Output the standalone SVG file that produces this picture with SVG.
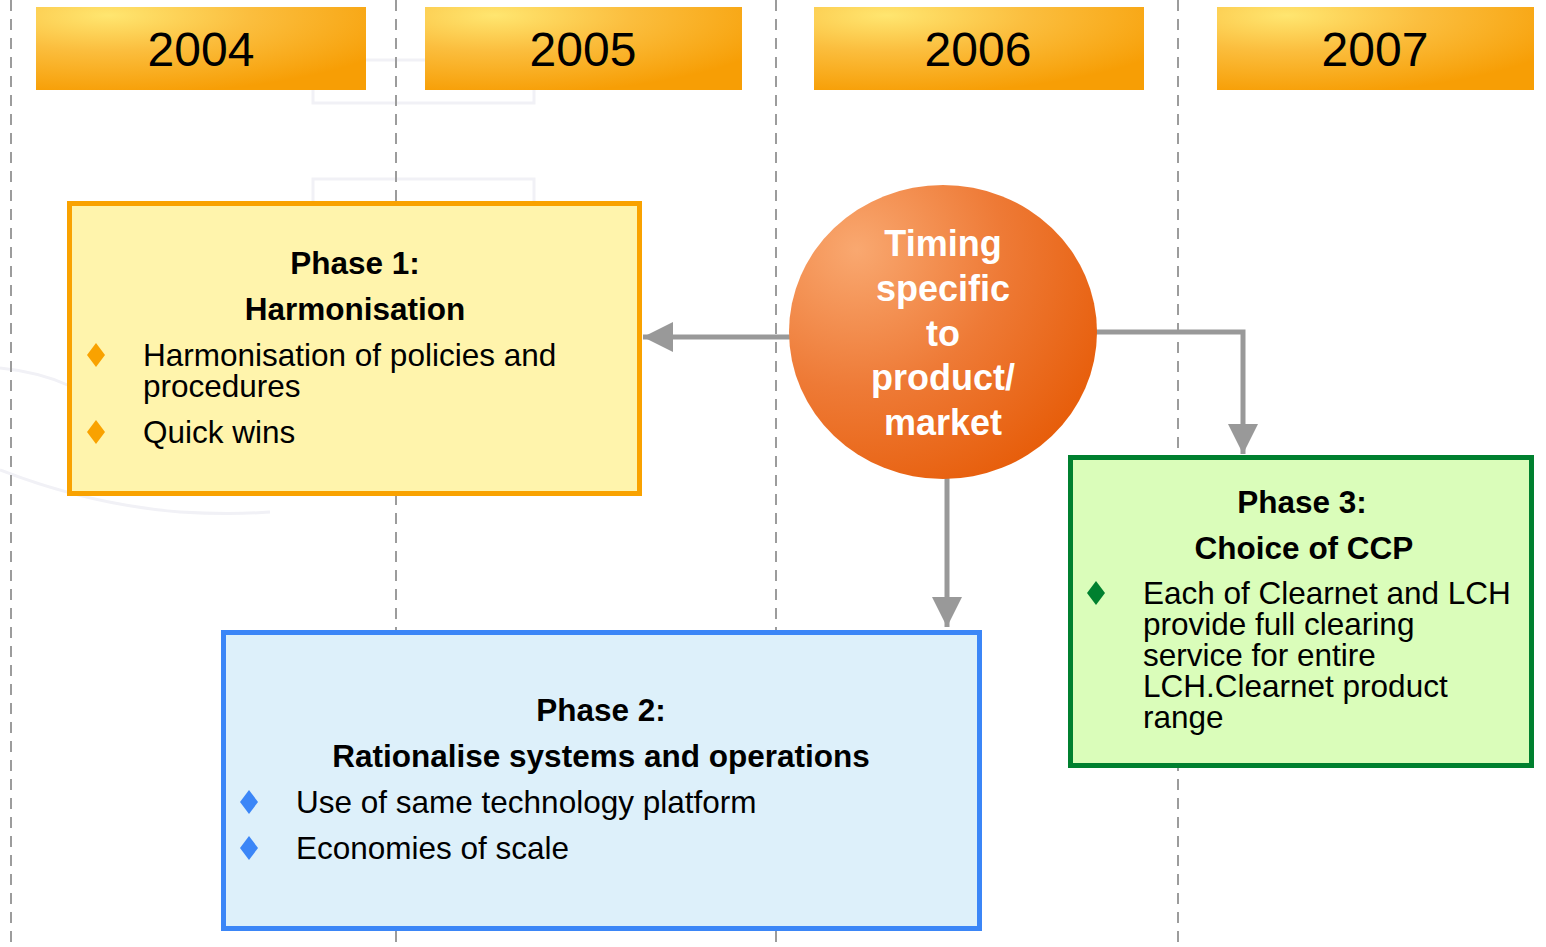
<svg xmlns="http://www.w3.org/2000/svg" width="1546" height="947" viewBox="0 0 1546 947">
  <style>
    text { font-family: "Liberation Sans", Arial, sans-serif; fill: #000; }
    .year { font-size: 48px; text-anchor: middle; }
    .head { font-size: 31.5px; font-weight: bold; text-anchor: middle; }
    .body { font-size: 31.5px; }
    .circ { font-size: 36px; font-weight: bold; text-anchor: middle; fill: #fff; }
    .grid { stroke: #9c9c9c; stroke-width: 2; stroke-dasharray: 11 8; fill: none; }
    .conn { stroke: #999; stroke-width: 5; fill: none; }
    .faint { stroke: #f1f1f6; stroke-width: 3; fill: none; }
  </style>
  <defs>
    <radialGradient id="yearGrad" cx="0.22" cy="0.1" r="0.95" fx="0.22" fy="0.1">
      <stop offset="0" stop-color="#FFE670"/>
      <stop offset="0.45" stop-color="#FBBE3E"/>
      <stop offset="1" stop-color="#F79E05"/>
    </radialGradient>
    <radialGradient id="circGrad" cx="0.22" cy="0.22" r="0.95" fx="0.22" fy="0.22">
      <stop offset="0" stop-color="#F9A870"/>
      <stop offset="0.5" stop-color="#EE7A36"/>
      <stop offset="1" stop-color="#E65A05"/>
    </radialGradient>
    <marker id="arrow" viewBox="0 0 30 30" refX="30" refY="15" markerWidth="30" markerHeight="30" markerUnits="userSpaceOnUse" orient="auto">
      <path d="M0,0 L30,15 L0,30 Z" fill="#999"/>
    </marker>
  </defs>

  <rect x="0" y="0" width="1546" height="947" fill="#fff"/>

  <g id="background">
    <rect class="faint" x="313" y="60" width="221" height="43"/>
    <rect class="faint" x="313" y="179" width="221" height="40"/>
    <path class="faint" d="M0,368 Q40,372 70,386"/>
    <path class="faint" d="M0,470 Q90,505 180,512 Q230,515 270,512"/>
  </g>

  <g id="gridlines">
    <line class="grid" x1="11" y1="0" x2="11" y2="947"/>
    <line class="grid" x1="396" y1="0" x2="396" y2="947"/>
    <line class="grid" x1="776" y1="0" x2="776" y2="947"/>
    <line class="grid" x1="1178" y1="0" x2="1178" y2="947"/>
  </g>

  <g id="year-2004">
    <rect x="36" y="7" width="330" height="83" fill="url(#yearGrad)"/>
    <text class="year" x="201" y="66">2004</text>
  </g>
  <g id="year-2005">
    <rect x="425" y="7" width="317" height="83" fill="url(#yearGrad)"/>
    <text class="year" x="583" y="66">2005</text>
  </g>
  <g id="year-2006">
    <rect x="814" y="7" width="330" height="83" fill="url(#yearGrad)"/>
    <text class="year" x="978" y="66">2006</text>
  </g>
  <g id="year-2007">
    <rect x="1217" y="7" width="317" height="83" fill="url(#yearGrad)"/>
    <text class="year" x="1375" y="66">2007</text>
  </g>

  <g id="phase1">
    <rect x="69.5" y="203.5" width="570" height="290" fill="#FFF4AC" stroke="#F9A200" stroke-width="5"/>
    <text class="head" x="355" y="274">Phase 1:</text>
    <text class="head" x="355" y="320">Harmonisation</text>
    <path d="M96,343 L105,355 L96,367 L87,355 Z" fill="#F9A200"/>
    <text class="body" x="143" y="366">Harmonisation of policies and</text>
    <text class="body" x="143" y="397">procedures</text>
    <path d="M96,420 L105,432 L96,444 L87,432 Z" fill="#F9A200"/>
    <text class="body" x="143" y="443">Quick wins</text>
  </g>

  <g id="phase2">
    <rect x="223.5" y="632.5" width="756" height="296" fill="#DDF0FA" stroke="#3B86F7" stroke-width="5"/>
    <text class="head" x="601" y="721">Phase 2:</text>
    <text class="head" x="601" y="767">Rationalise systems and operations</text>
    <path d="M249,790 L258,802 L249,814 L240,802 Z" fill="#3B86F7"/>
    <text class="body" x="296" y="813">Use of same technology platform</text>
    <path d="M249,836 L258,848 L249,860 L240,848 Z" fill="#3B86F7"/>
    <text class="body" x="296" y="859">Economies of scale</text>
  </g>

  <g id="phase3">
    <rect x="1070.5" y="457.5" width="461" height="308" fill="#DAFDBA" stroke="#00802F" stroke-width="5"/>
    <text class="head" x="1302" y="513">Phase 3:</text>
    <text class="head" x="1304" y="559">Choice of CCP</text>
    <path d="M1096,581 L1105,593 L1096,605 L1087,593 Z" fill="#00802F"/>
    <text class="body" x="1143" y="604">Each of Clearnet and LCH</text>
    <text class="body" x="1143" y="635">provide full clearing</text>
    <text class="body" x="1143" y="666">service for entire</text>
    <text class="body" x="1143" y="697">LCH.Clearnet product</text>
    <text class="body" x="1143" y="728">range</text>
  </g>

  <g id="connectors">
    <line class="conn" x1="790" y1="337" x2="643" y2="337" marker-end="url(#arrow)"/>
    <polyline class="conn" points="1096,332 1243,332 1243,454" marker-end="url(#arrow)"/>
    <line class="conn" x1="947" y1="476" x2="947" y2="627" marker-end="url(#arrow)"/>
  </g>

  <g id="timing">
    <ellipse cx="943" cy="332" rx="154" ry="147" fill="url(#circGrad)"/>
    <text class="circ" x="943" y="256">Timing</text>
    <text class="circ" x="943" y="301">specific</text>
    <text class="circ" x="943" y="346">to</text>
    <text class="circ" x="943" y="390">product/</text>
    <text class="circ" x="943" y="435">market</text>
  </g>
</svg>
